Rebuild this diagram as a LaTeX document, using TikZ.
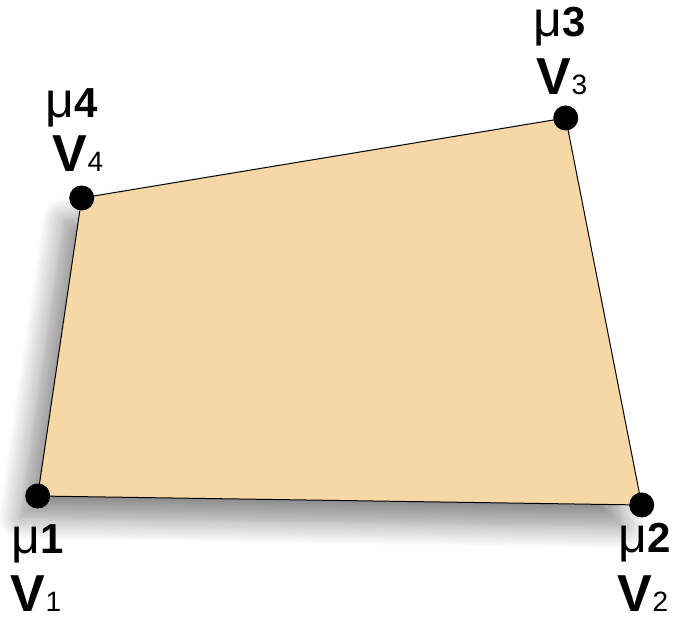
\documentclass[tikz,border=0pt]{standalone}
\usepackage{fontspec}
\setmainfont{Liberation Sans}
\usetikzlibrary{shadows.blur}
\definecolor{quadfill}{RGB}{246, 216, 166}

\begin{document}
\begin{tikzpicture}[x=0.5pt, y=0.5pt,
  vert/.style={circle, fill=black, inner sep=0pt, minimum size=12.5pt},
  mulab/.style={anchor=base, inner sep=0pt, font=\fontsize{21}{21}\selectfont},
  vlab/.style={anchor=base, inner sep=0pt, font=\fontsize{26}{26}\selectfont\bfseries}
]
  \useasboundingbox (0,0) rectangle (673,620);

  % corners of the quadrilateral
  \coordinate (p1) at (37.7,124);
  \coordinate (p2) at (641.7,115);
  \coordinate (p3) at (565.7,502);
  \coordinate (p4) at (81.7,422);

  \fill[quadfill, draw=black, line width=0.5pt,
    blur shadow={shadow xshift=-9pt, shadow yshift=-11pt, shadow blur radius=11pt, shadow blur steps=12, shadow opacity=45}]
    (p1) -- (p2) -- (p3) -- (p4) -- cycle;

  \node[vert] (v1) at (p1) {};
  \node[vert] (v2) at (p2) {};
  \node[vert] (v3) at (p3) {};
  \node[vert] (v4) at (p4) {};

  % labels
  \newcommand{\mulabel}[1]{{\fontsize{25}{25}\selectfont μ}\textbf{#1}}
  \newcommand{\vlabel}[1]{V{\fontsize{14}{14}\selectfont\mdseries #1}}
  \node[mulab] (m1) at (38,67) {\mulabel{1}};
  \node[vlab] (n1) at (36,9) {\vlabel{1}};
  \node[mulab] (m2) at (645,68) {\mulabel{2}};
  \node[vlab] (n2) at (643,9) {\vlabel{2}};
  \node[mulab] (m3) at (560,583) {\mulabel{3}};
  \node[vlab] (n3) at (562,525) {\vlabel{3}};
  \node[mulab] (m4) at (72,502) {\mulabel{4}};
  \node[vlab] (n4) at (78,448) {\vlabel{4}};
\end{tikzpicture}
\end{document}
